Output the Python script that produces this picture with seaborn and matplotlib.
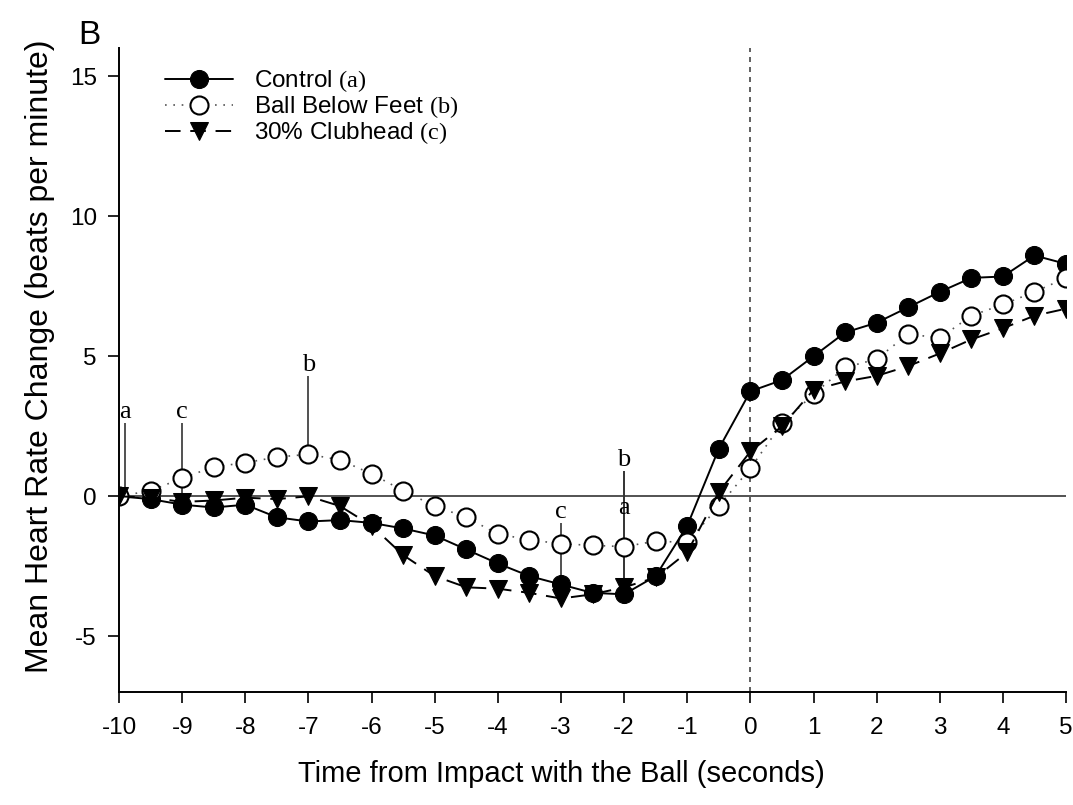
import numpy as np
import pandas as pd
import matplotlib
matplotlib.use("Agg")
import matplotlib.pyplot as plt
import seaborn as sns

# time points, seconds relative to impact
time_s = np.arange(-10, 5.01, 0.5)

control = [0.0, -0.1, -0.3, -0.4, -0.3, -0.75, -0.9, -0.85, -0.95, -1.15, -1.4,
           -1.9, -2.4, -2.85, -3.15, -3.45, -3.5, -2.85, -1.05, 1.7, 3.75,
           4.15, 5.0, 5.85, 6.2, 6.75, 7.3, 7.8, 7.85, 8.6, 8.3]
ball_below = [0.0, 0.2, 0.65, 1.05, 1.2, 1.4, 1.5, 1.3, 0.8, 0.2, -0.35,
              -0.75, -1.35, -1.55, -1.7, -1.75, -1.8, -1.6, -1.65, -0.35, 1.0,
              2.6, 3.65, 4.6, 4.9, 5.8, 5.65, 6.45, 6.85, 7.3, 7.8]
clubhead = [0.0, -0.05, -0.2, -0.15, -0.05, -0.1, 0.0, -0.35, -1.05, -2.1, -2.85,
            -3.25, -3.3, -3.45, -3.65, -3.5, -3.25, -2.9, -2.0, 0.15, 1.6,
            2.5, 3.8, 4.1, 4.3, 4.65, 5.1, 5.6, 6.0, 6.45, 6.7]

# significance marks: letter, x, line bottom, line top, letter y
sig_letters = ["a", "c", "b", "c", "b", "a"]
sig_x = [-9.9, -9.0, -7.0, -3.0, -2.0, -2.0]
sig_y0 = [0.0, 0.0, 1.5, -3.15, -3.3, -3.3]
sig_y1 = [2.6, 2.6, 4.3, -0.95, 0.9, 0.9]
sig_text_y = [2.6, 2.6, 4.3, -0.95, 0.9, -0.8]

df = pd.DataFrame({"time": time_s, "control": control,
                   "ball": ball_below, "club": clubhead})

sns.set_style("ticks")
plt.rcParams["font.family"] = ["Liberation Sans", "DejaVu Sans"]
plt.rcParams["mathtext.fontset"] = "custom"
plt.rcParams["mathtext.rm"] = "Liberation Serif"
plt.rcParams["axes.unicode_minus"] = False
for k in ["text.color", "axes.labelcolor", "xtick.color", "ytick.color", "axes.edgecolor"]:
    plt.rcParams[k] = "black"

fig = plt.figure(figsize=(10.73, 8.05), dpi=100)
ax = fig.add_axes([0.111, 0.14, 0.8825, 0.80])

ax.axhline(0, color="#444444", lw=1.3, zorder=1)
ax.axvline(0, color="#444444", lw=1.2, ls=(0, (3, 3)), zorder=1)

sns.lineplot(data=df, x="time", y="control", ax=ax, color="black", lw=1.4,
             marker="o", markersize=13, markerfacecolor="black",
             markeredgecolor="black", label=r"Control $\mathrm{(a)}$", zorder=3)
sns.lineplot(data=df, x="time", y="ball", ax=ax, color="#555555", lw=1.2,
             linestyle=(0, (1, 4)), marker="o", markersize=13,
             markerfacecolor="white", markeredgecolor="black", markeredgewidth=1.5,
             label=r"Ball Below Feet $\mathrm{(b)}$", zorder=4)
sns.lineplot(data=df, x="time", y="club", ax=ax, color="black", lw=1.4,
             linestyle=(0, (8, 5)), marker="v", markersize=13,
             markerfacecolor="black", markeredgecolor="black",
             label=r"30% Clubhead $\mathrm{(c)}$", zorder=5)

ax.vlines(sig_x, sig_y0, sig_y1, color="#333333", lw=1.2, zorder=2)
for lt, x, y in zip(sig_letters, sig_x, sig_text_y):
    ax.text(x, y, lt, ha="center", va="bottom", fontsize=19,
            family="Liberation Serif", zorder=6)

ax.set_xlim(-10, 5)
ax.set_ylim(-7, 16)
ax.set_xticks(range(-10, 6))
ax.set_yticks([-5, 0, 5, 10, 15])
ax.tick_params(labelsize=17.5, length=8, width=1.2, direction="out")
ax.tick_params(axis="x", pad=10)
ax.tick_params(axis="y", pad=8)
for s in ["left", "bottom"]:
    ax.spines[s].set_linewidth(1.4)
sns.despine(ax=ax)

ax.set_xlabel("Time from Impact with the Ball (seconds)", fontsize=21)
ax.set_ylabel("Mean Heart Rate Change (beats per minute)", fontsize=23)
ax.xaxis.set_label_coords(0.467, -0.105)
ax.yaxis.set_label_coords(-0.068, 0.522)

leg = ax.legend(loc="upper left", bbox_to_anchor=(0.03, 0.995), frameon=False,
                fontsize=17.5, handlelength=2.8, labelspacing=0.0, borderpad=0.2,
                handletextpad=0.9)

fig.text(0.073, 0.945, "B", fontsize=24)

fig.savefig("out.png", dpi=100)
